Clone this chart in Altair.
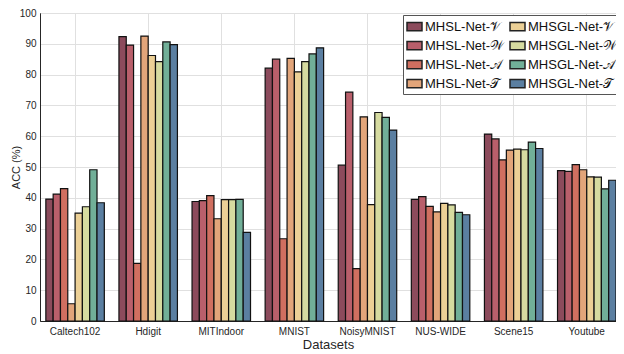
import altair as alt
import pandas as pd

categories = ["Caltech102", "Hdigit", "MITIndoor", "MNIST", "NoisyMNIST", "NUS-WIDE", "Scene15", "Youtube"]

series = ["MHSL-Net-𝒱", "MHSL-Net-𝒲", "MHSL-Net-𝒜", "MHSL-Net-𝒯",
          "MHSGL-Net-𝒱", "MHSGL-Net-𝒲", "MHSGL-Net-𝒜", "MHSGL-Net-𝒯"]

mhsl_v = [39.6, 92.3, 38.8, 82.1, 50.6, 39.5, 60.7, 48.8]
mhsl_w = [41.2, 89.6, 39.1, 85.0, 74.3, 40.4, 59.1, 48.6]
mhsl_a = [43.0, 18.7, 40.7, 26.7, 17.0, 37.2, 52.3, 50.8]
mhsl_t = [5.6, 92.5, 33.2, 85.3, 66.3, 35.4, 55.5, 49.1]
mhsgl_v = [35.0, 86.2, 39.4, 80.9, 37.8, 38.2, 55.8, 46.8]
mhsgl_w = [37.1, 84.2, 39.4, 84.2, 67.7, 37.7, 55.6, 46.7]
mhsgl_a = [49.1, 90.6, 39.5, 86.7, 66.1, 35.3, 58.1, 42.9]
mhsgl_t = [38.4, 89.7, 28.8, 88.7, 62.0, 34.5, 56.0, 45.7]

colors = ["#8c4b5c", "#b95f6b", "#d06f60", "#e2a57a",
          "#ecd096", "#d6dba0", "#71af98", "#5b7fa1"]

values = [mhsl_v, mhsl_w, mhsl_a, mhsl_t, mhsgl_v, mhsgl_w, mhsgl_a, mhsgl_t]

rows = []
for s, vals in zip(series, values):
    for c, v in zip(categories, vals):
        rows.append({"Dataset": c, "Method": s, "ACC": v})
df = pd.DataFrame(rows)

font = "Liberation Sans"

bars = alt.Chart(df).mark_bar(stroke="#111111", strokeWidth=1.2).encode(
    x=alt.X("Dataset:N", sort=categories,
            scale=alt.Scale(paddingInner=0.2, paddingOuter=0.04, align=1),
            axis=alt.Axis(title="Datasets", labelAngle=0, labelFontSize=10,
                          titleFontSize=13, titleFontWeight="normal",
                          labelPadding=5, titlePadding=2, ticks=False,
                          grid=True)),
    xOffset=alt.XOffset("Method:N", sort=series),
    y=alt.Y("ACC:Q", scale=alt.Scale(domain=[0, 100], nice=False),
            axis=alt.Axis(title="ACC (%)", values=list(range(0, 101, 10)),
                          labelFontSize=10, titleFontSize=11,
                          titleFontWeight="normal", ticks=False,
                          labelPadding=4, titleX=-19, titleY=154,
                          grid=True)),
    color=alt.Color("Method:N",
                    scale=alt.Scale(domain=series, range=colors),
                    legend=alt.Legend(title=None, orient="none",
                                      legendX=363, legendY=2,
                                      columns=2, columnPadding=2,
                                      rowPadding=3, padding=3,
                                      labelFontSize=13, labelLimit=300,
                                      labelOffset=2,
                                      symbolType="M-1,-0.55L1,-0.55L1,0.55L-1,0.55Z",
                                      symbolSize=225, symbolStrokeColor="#222222",
                                      symbolStrokeWidth=1.5, symbolOpacity=1,
                                      strokeColor="#555555", fillColor="white",
                                      labelColor="#111111")),
)

chart = bars.properties(
    width=576, height=308,
    autosize=alt.AutoSizeParams(type="none"),
    padding={"left": 32, "top": 5, "right": 0, "bottom": 33},
).configure_axis(
    labelFont=font, titleFont=font, labelColor="#262626", titleColor="#262626",
    domainColor="#262626", domainWidth=1, gridColor="#e0e0e0", gridWidth=1,
).configure_legend(
    labelFont=font,
).configure_view(
    stroke="#262626", strokeWidth=1,
)

chart.save("out.html", embed_options={"renderer": "svg", "actions": False})
